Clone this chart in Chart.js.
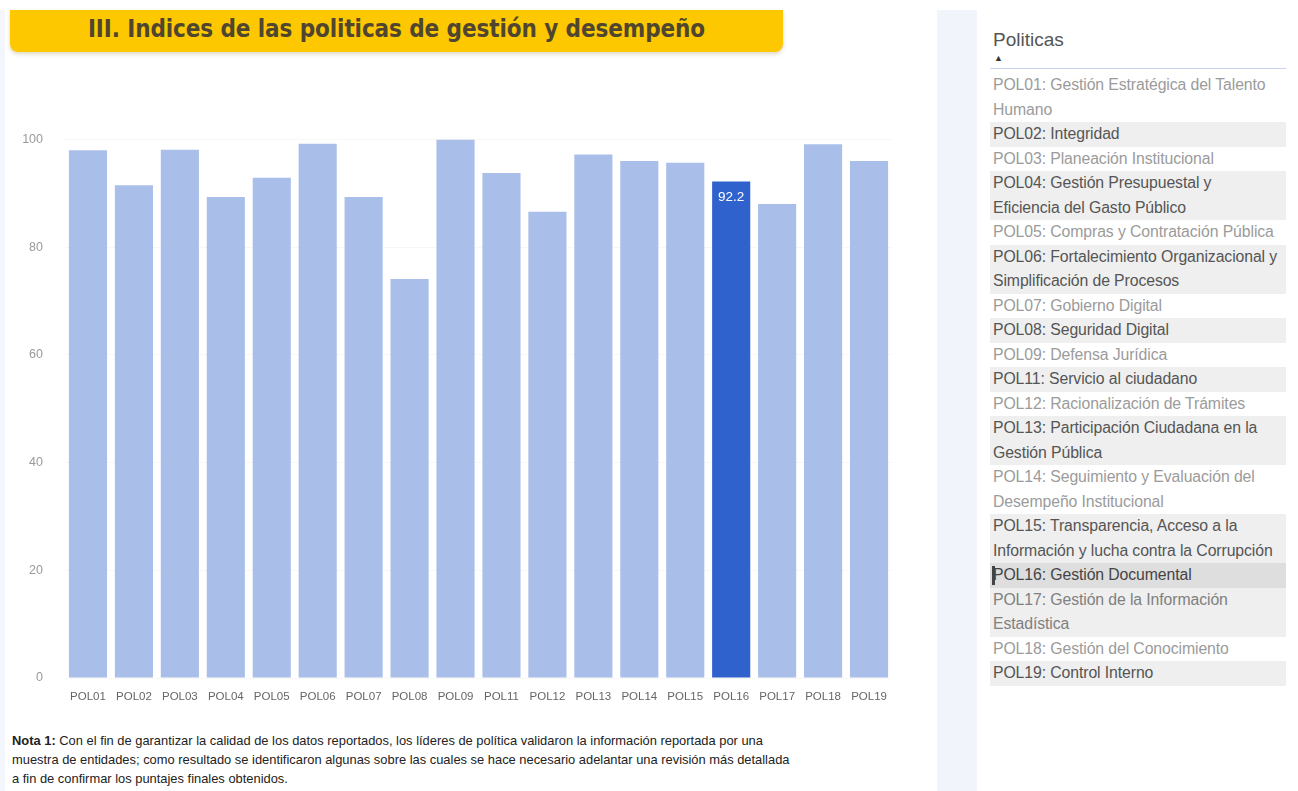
<!DOCTYPE html>
<html lang="es">
<head>
<meta charset="utf-8">
<title>Indices de las politicas de gestión y desempeño</title>
<script src="https://cdn.jsdelivr.net/npm/chart.js@4.4.1/dist/chart.umd.min.js"></script>
<style>
  html, body { margin: 0; padding: 0; background: #ffffff; }
  body { width: 1298px; height: 791px; position: relative; overflow: hidden; font-family: "Liberation Sans", Arial, sans-serif; }
  #borde { position: absolute; left: 0; top: 10px; width: 5px; height: 781px; background: #f3f6fc; }
  #titulo {
    position: absolute; left: 10px; top: 10px; width: 773px; height: 42px;
    background: #fdc800; border-radius: 0 0 8px 8px;
    box-shadow: 0 2px 4px rgba(120, 100, 0, 0.25);
    text-align: center; line-height: 38px;
    font-family: "DejaVu Sans Condensed", "DejaVu Sans", sans-serif; font-weight: bold;
    font-size: 24px; color: #50462f; letter-spacing: -0.1px;
  }
  #grafico { position: absolute; left: 0; top: 110px; width: 900px; height: 598px; }
  #nota {
    position: absolute; left: 12px; top: 731px; width: 900px;
    font-family: "Liberation Sans", Arial, sans-serif;
    font-size: 12.9px; line-height: 19px; color: #222;
  }
  #franja { position: absolute; left: 937px; top: 10px; width: 40px; height: 781px; background: #f1f4fb; }
  #panel { position: absolute; left: 990px; top: 28px; width: 296px; }
  #panel h3 { margin: 0 0 0 3px; font-weight: normal; font-size: 19px; color: #555; height: 24px; line-height: 24px; }
  #panel .flecha { font-size: 9px; color: #333; margin-left: 4px; height: 12px; line-height: 12px; }
  #panel .linea { border-top: 1px solid #c8d2ea; margin-top: 4px; }
  #lista { margin-top: 4px; }
  #lista div {
    white-space: pre-line; font-size: 15.8px; line-height: 24.5px;
    padding-left: 3px; color: #9b9b9b; position: relative; letter-spacing: -0.1px;
  }
  #lista div.par { background: #efefef; color: #555; }
  #lista div.sel { background: #dedede; color: #444; }
  #lista div.sel::before { content: ""; position: absolute; left: 2px; top: 3px; width: 3px; height: 19px; background: #444; }
</style>
</head>
<body>
<div id="borde"></div>
<div id="titulo">III. Indices de las politicas de gestión y desempeño</div>
<div id="grafico"><canvas id="indices"></canvas></div>
<div id="nota"><b>Nota 1:</b> Con el fin de garantizar la calidad de los datos reportados, los líderes de política validaron la información reportada por una<br>muestra de entidades; como resultado se identificaron algunas sobre las cuales se hace necesario adelantar una revisión más detallada<br>a fin de confirmar los puntajes finales obtenidos.</div>
<div id="franja"></div>
<div id="panel">
  <h3>Politicas</h3>
  <div class="flecha">&#9650;</div>
  <div class="linea"></div>
  <div id="lista"></div>
</div>
<script>
// Códigos de las políticas (eje X)
const politicas = ['POL01', 'POL02', 'POL03', 'POL04', 'POL05', 'POL06', 'POL07', 'POL08', 'POL09',
  'POL11', 'POL12', 'POL13', 'POL14', 'POL15', 'POL16', 'POL17', 'POL18', 'POL19'];

// Índice de cada política
const indices = [98.0, 91.5, 98.1, 89.3, 92.9, 99.2, 89.3, 74.1, 100.0,
  93.8, 86.6, 97.2, 96.0, 95.7, 92.2, 88.0, 99.1, 96.0];

// Nombres completos para la lista del filtro
const nombres = [
  'POL01: Gestión Estratégica del Talento\nHumano',
  'POL02: Integridad',
  'POL03: Planeación Institucional',
  'POL04: Gestión Presupuestal y\nEficiencia del Gasto Público',
  'POL05: Compras y Contratación Pública',
  'POL06: Fortalecimiento Organizacional y\nSimplificación de Procesos',
  'POL07: Gobierno Digital',
  'POL08: Seguridad Digital',
  'POL09: Defensa Jurídica',
  'POL11: Servicio al ciudadano',
  'POL12: Racionalización de Trámites',
  'POL13: Participación Ciudadana en la\nGestión Pública',
  'POL14: Seguimiento y Evaluación del\nDesempeño Institucional',
  'POL15: Transparencia, Acceso a la\nInformación y lucha contra la Corrupción',
  'POL16: Gestión Documental',
  'POL17: Gestión de la Información\nEstadística',
  'POL18: Gestión del Conocimiento',
  'POL19: Control Interno'
];

// Ticks del eje Y
const ticksY = [0, 20, 40, 60, 80, 100];

// Política seleccionada (se resalta en azul fuerte)
const seleccionada = 'POL16';

const colorNormal = '#a9bfea';
const colorSeleccion = '#2f62cc';

// Lista lateral
const lista = document.getElementById('lista');
nombres.forEach((nombre, i) => {
  const item = document.createElement('div');
  item.textContent = nombre;
  if (politicas[i] === seleccionada) item.className = 'sel';
  else if (i % 2 === 1) item.className = 'par';
  if (politicas[i] === 'POL17') item.style.color = '#808080';
  lista.appendChild(item);
});

// Plugin para escribir el valor dentro de la barra seleccionada
const etiquetaSeleccion = {
  id: 'etiquetaSeleccion',
  afterDatasetsDraw(chart) {
    const ctx = chart.ctx;
    const meta = chart.getDatasetMeta(0);
    const i = politicas.indexOf(seleccionada);
    const barra = meta.data[i];
    ctx.save();
    ctx.fillStyle = '#ffffff';
    ctx.font = '13.5px "Liberation Sans", sans-serif';
    ctx.textAlign = 'center';
    ctx.textBaseline = 'middle';
    ctx.fillText(indices[i].toFixed(1), barra.x, barra.y + 16);
    ctx.restore();
  }
};

new Chart(document.getElementById('indices'), {
  type: 'bar',
  data: {
    labels: politicas,
    datasets: [{
      data: indices,
      backgroundColor: politicas.map(p => p === seleccionada ? colorSeleccion : colorNormal),
      categoryPercentage: 1.0,
      barPercentage: 0.83,
      borderWidth: 0
    }]
  },
  options: {
    responsive: true,
    maintainAspectRatio: false,
    animation: false,
    layout: { padding: { top: 10, right: 8, left: 0, bottom: 0 } },
    plugins: { legend: { display: false }, tooltip: { enabled: false } },
    scales: {
      x: {
        grid: { display: false },
        border: { display: false },
        ticks: {
          color: '#666',
          padding: 4,
          maxRotation: 0,
          autoSkip: false,
          font: { family: '"Liberation Sans", Arial, sans-serif', size: 11.5 }
        },
        afterFit(scale) { scale.height = 30; }
      },
      y: {
        min: 0,
        max: 100,
        afterBuildTicks(scale) { scale.ticks = ticksY.map(v => ({ value: v })); },
        grid: { color: '#f7f7f4', drawTicks: false },
        border: { display: false },
        ticks: {
          color: '#9a9a9a',
          padding: 22,
          font: { family: '"Liberation Sans", Arial, sans-serif', size: 12.5 }
        },
        afterFit(scale) { scale.width = 65; }
      }
    }
  },
  plugins: [etiquetaSeleccion]
});
</script>
</body>
</html>
